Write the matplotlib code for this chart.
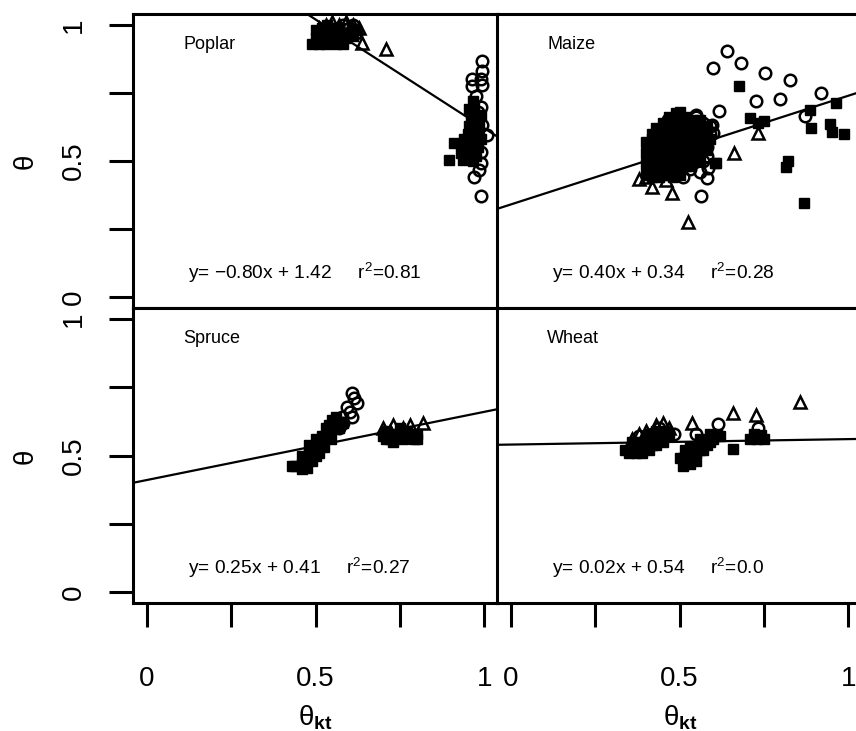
import matplotlib.pyplot as plt

plt.rcParams['font.family'] = ['Liberation Sans', 'DejaVu Sans']
plt.rcParams['mathtext.fontset'] = 'custom'
plt.rcParams['mathtext.rm'] = 'Liberation Sans'
plt.rcParams['mathtext.it'] = 'Liberation Sans:italic'
plt.rcParams['mathtext.bf'] = 'Liberation Sans:bold'
plt.rcParams['mathtext.default'] = 'regular'

# ---- data ----
names = ["Poplar", "Maize", "Spruce", "Wheat"]
slopes = [-0.80, 0.40, 0.25, 0.02]
intercepts = [1.42, 0.34, 0.41, 0.54]
equations = ["y= \u22120.80x + 1.42     r$^2$=0.81",
             "y= 0.40x + 0.34     r$^2$=0.28",
             "y= 0.25x + 0.41     r$^2$=0.27",
             "y= 0.02x + 0.54     r$^2$=0.0"]

# Poplar
poplar_sq_x = [0.49, 0.50, 0.51, 0.52, 0.53, 0.54, 0.55, 0.56, 0.57, 0.58, 0.59, 0.60, 0.50, 0.52, 0.55, 0.57,
               0.53, 0.58, 0.61, 0.62, 0.535, 0.565,
               0.896, 0.911, 0.935, 0.94, 0.95, 0.96, 0.96, 0.97, 0.97, 0.98, 0.98, 0.99, 0.95, 0.965, 0.975, 0.955, 0.985,
               0.955, 0.975, 0.97, 0.96, 0.94, 0.93, 0.99, 0.975, 0.965, 0.945, 0.985, 0.97]
poplar_sq_y = [0.93, 0.95, 0.93, 0.95, 0.97, 0.94, 0.96, 0.93, 0.95, 0.97, 0.95, 0.97, 0.98, 0.99, 0.99, 0.99,
               0.93, 0.93, 0.96, 0.98, 1.00, 0.97,
               0.504, 0.566, 0.504, 0.55, 0.60, 0.53, 0.65, 0.58, 0.70, 0.62, 0.55, 0.67, 0.57, 0.72, 0.52, 0.63, 0.60,
               0.69, 0.66, 0.63, 0.61, 0.58, 0.53, 0.58, 0.55, 0.50, 0.52, 0.64, 0.675]
poplar_ci_x = [0.52, 0.54, 0.56, 0.58, 0.60, 0.62, 0.57, 0.61,
               0.994, 0.994, 0.991, 0.964, 0.962, 0.994, 0.975, 0.99, 0.994, 1.006, 0.991, 0.991, 0.985, 0.970, 0.991, 0.98]
poplar_ci_y = [0.97, 0.99, 0.98, 1.00, 0.99, 0.97, 0.96, 1.00,
               0.869, 0.832, 0.803, 0.803, 0.777, 0.781, 0.74, 0.70, 0.631, 0.595, 0.533, 0.493, 0.467, 0.442, 0.372, 0.68]
poplar_tr_x = [0.51, 0.53, 0.55, 0.57, 0.59, 0.61, 0.63, 0.639, 0.710]
poplar_tr_y = [0.99, 1.00, 1.01, 1.00, 1.01, 1.00, 0.99, 0.934, 0.912]

# Maize
maize_sq_x = [0.40, 0.41, 0.42, 0.43, 0.44, 0.45, 0.46, 0.47, 0.48, 0.49, 0.50, 0.51, 0.52, 0.53, 0.54, 0.55,
              0.56, 0.57, 0.42, 0.44, 0.47, 0.50, 0.53, 0.58, 0.46, 0.40, 0.43, 0.49, 0.52, 0.55, 0.45, 0.48,
              0.41, 0.43, 0.45, 0.47, 0.49, 0.51, 0.53, 0.55, 0.57, 0.48, 0.50, 0.46, 0.44, 0.42, 0.45, 0.52,
              0.54, 0.56, 0.58, 0.51, 0.47, 0.43, 0.49, 0.54, 0.56,
              0.40, 0.40, 0.42, 0.44, 0.44, 0.46, 0.46, 0.48, 0.48, 0.50, 0.50, 0.52, 0.52, 0.54, 0.54,
              0.56, 0.56, 0.58, 0.58, 0.59, 0.47, 0.50, 0.43, 0.41, 0.45, 0.53, 0.51,
              0.675, 0.710, 0.751, 0.731, 0.885, 0.962, 0.888, 0.944, 0.950, 0.988, 0.820, 0.814, 0.867, 0.604, 0.609]
maize_sq_y = [0.45, 0.50, 0.55, 0.47, 0.52, 0.58, 0.49, 0.62, 0.55, 0.675, 0.50, 0.60, 0.54, 0.64, 0.58, 0.51,
              0.62, 0.56, 0.60, 0.44, 0.45, 0.65, 0.48, 0.60, 0.56, 0.53, 0.58, 0.58, 0.66, 0.56, 0.64, 0.47,
              0.47, 0.52, 0.48, 0.50, 0.52, 0.55, 0.58, 0.61, 0.59, 0.63, 0.62, 0.53, 0.49, 0.44, 0.45, 0.51,
              0.55, 0.54, 0.57, 0.64, 0.58, 0.55, 0.47, 0.62, 0.65,
              0.49, 0.57, 0.58, 0.60, 0.54, 0.62, 0.46, 0.44, 0.50, 0.45, 0.53, 0.48, 0.57, 0.50, 0.65,
              0.50, 0.59, 0.63, 0.54, 0.58, 0.66, 0.68, 0.62, 0.53, 0.51, 0.52, 0.58,
              0.774, 0.657, 0.646, 0.639, 0.686, 0.712, 0.620, 0.635, 0.606, 0.599, 0.500, 0.478, 0.347, 0.493, 0.493]
maize_ci_x = [0.45, 0.48, 0.50, 0.52, 0.54, 0.56, 0.57, 0.58, 0.55, 0.53, 0.51, 0.59, 0.47, 0.44,
              0.58, 0.59, 0.57, 0.56, 0.53, 0.55,
              0.642, 0.598, 0.683, 0.754, 0.828, 0.725, 0.796, 0.920, 0.618, 0.870, 0.595, 0.583, 0.580,
              0.565, 0.550, 0.598]
maize_ci_y = [0.50, 0.60, 0.56, 0.62, 0.53, 0.57, 0.64, 0.52, 0.66, 0.47, 0.44, 0.60, 0.52, 0.57,
              0.55, 0.63, 0.50, 0.46, 0.60, 0.64,
              0.905, 0.843, 0.861, 0.825, 0.799, 0.719, 0.726, 0.748, 0.682, 0.664, 0.631, 0.474, 0.438,
              0.372, 0.668, 0.602]
maize_tr_x = [0.42, 0.44, 0.46, 0.48, 0.50, 0.41, 0.43, 0.45, 0.441, 0.379, 0.420, 0.479, 0.524, 0.660, 0.731,
              0.400, 0.460]
maize_tr_y = [0.50, 0.55, 0.60, 0.52, 0.58, 0.57, 0.46, 0.64, 0.606, 0.434, 0.405, 0.383, 0.277, 0.529, 0.602,
              0.440, 0.430]

# Spruce
spruce_sq_x = [0.429, 0.459, 0.47, 0.46, 0.48, 0.49, 0.482, 0.50, 0.51, 0.52, 0.53, 0.50, 0.54, 0.55, 0.56, 0.475,
               0.49, 0.51, 0.525, 0.545, 0.57, 0.58,
               0.44, 0.46, 0.48, 0.50, 0.52, 0.54, 0.56, 0.55, 0.53,
               0.70, 0.72, 0.74, 0.76, 0.78, 0.80, 0.71, 0.75, 0.73, 0.77, 0.79, 0.71, 0.74, 0.77, 0.80]
spruce_sq_y = [0.46, 0.449, 0.47, 0.50, 0.49, 0.52, 0.54, 0.50, 0.53, 0.55, 0.57, 0.56, 0.59, 0.60, 0.62, 0.455,
               0.48, 0.51, 0.53, 0.56, 0.60, 0.62,
               0.46, 0.47, 0.51, 0.53, 0.57, 0.61, 0.64, 0.63, 0.60,
               0.57, 0.56, 0.58, 0.56, 0.57, 0.58, 0.59, 0.60, 0.55, 0.59, 0.56, 0.56, 0.57, 0.58, 0.56]
spruce_ci_x = [0.609, 0.615, 0.624, 0.592, 0.601, 0.609, 0.577, 0.56, 0.55, 0.58, 0.57, 0.54]
spruce_ci_y = [0.730, 0.712, 0.693, 0.679, 0.661, 0.642, 0.642, 0.62, 0.60, 0.62, 0.60, 0.58]
spruce_tr_x = [0.817, 0.70, 0.73, 0.76, 0.78, 0.72]
spruce_tr_y = [0.620, 0.60, 0.61, 0.60, 0.61, 0.59]

# Wheat
wheat_sq_x = [0.34, 0.36, 0.38, 0.40, 0.42, 0.44, 0.46, 0.37, 0.41, 0.45, 0.39, 0.43, 0.35,
              0.36, 0.38, 0.40, 0.42, 0.44, 0.46, 0.43, 0.39, 0.41, 0.47,
              0.51, 0.52, 0.54, 0.53, 0.56, 0.58, 0.60, 0.62, 0.57, 0.55, 0.59, 0.50, 0.515,
              0.51, 0.53, 0.55, 0.57, 0.59, 0.61, 0.56, 0.52,
              0.657, 0.71, 0.73, 0.75, 0.72, 0.74]
wheat_sq_y = [0.52, 0.53, 0.55, 0.54, 0.56, 0.58, 0.57, 0.51, 0.52, 0.55, 0.51, 0.54, 0.51,
              0.55, 0.52, 0.57, 0.54, 0.56, 0.59, 0.59, 0.54, 0.58, 0.58,
              0.46, 0.49, 0.50, 0.53, 0.52, 0.54, 0.56, 0.57, 0.55, 0.48, 0.58, 0.49, 0.52,
              0.49, 0.47, 0.51, 0.52, 0.55, 0.58, 0.56, 0.51,
              0.525, 0.56, 0.56, 0.56, 0.58, 0.575]
wheat_ci_x = [0.38, 0.42, 0.485, 0.40, 0.44, 0.55, 0.615, 0.731]
wheat_ci_y = [0.57, 0.58, 0.577, 0.56, 0.60, 0.577, 0.617, 0.599]
wheat_tr_x = [0.40, 0.43, 0.45, 0.47, 0.36, 0.38, 0.536, 0.657, 0.725, 0.858]
wheat_tr_y = [0.59, 0.61, 0.62, 0.60, 0.56, 0.58, 0.620, 0.657, 0.650, 0.697]

squares = [(poplar_sq_x, poplar_sq_y), (maize_sq_x, maize_sq_y), (spruce_sq_x, spruce_sq_y), (wheat_sq_x, wheat_sq_y)]
circles = [(poplar_ci_x, poplar_ci_y), (maize_ci_x, maize_ci_y), (spruce_ci_x, spruce_ci_y), (wheat_ci_x, wheat_ci_y)]
triangles = [(poplar_tr_x, poplar_tr_y), (maize_tr_x, maize_tr_y), (spruce_tr_x, spruce_tr_y), (wheat_tr_x, wheat_tr_y)]

tick_pos = [0, 0.25, 0.5, 0.75, 1]
tick_lab = ["0", "", "0.5", "", "1"]

fig = plt.figure(figsize=(8.56, 7.31), dpi=100)
W, H = 856, 731
lefts = [133, 497, 133, 497]
tops = [14, 14, 308, 308]
bottoms = [308, 308, 603, 603]

for i in range(4):
    ax = fig.add_axes([lefts[i] / W, 1 - bottoms[i] / H, 365 / W, (bottoms[i] - tops[i]) / H])
    ax.set_xlim(-0.04, 1.04)
    ax.set_ylim(-0.04, 1.04)
    for s in ax.spines.values():
        s.set_linewidth(2.2)

    ax.plot(squares[i][0], squares[i][1], 's', color='black', markersize=7.2, linestyle='none')
    ax.plot(circles[i][0], circles[i][1], 'o', mfc='none', mec='black', mew=1.8, markersize=8.3, linestyle='none')
    ax.plot(triangles[i][0], triangles[i][1], '^', mfc='none', mec='black', mew=1.8, markersize=8.3, linestyle='none')
    ax.axline((0, intercepts[i]), slope=slopes[i], color='black', linewidth=1.6)

    ax.text(0.137, 0.895, names[i], transform=ax.transAxes, fontsize=13, va='center')
    ax.text(0.151, 0.119, equations[i], transform=ax.transAxes, fontsize=13.8, va='center')

    ax.tick_params(length=17, width=2.2, labelsize=20)
    if i in (0, 2):
        ax.set_yticks(tick_pos)
        ax.set_yticklabels(tick_lab, rotation=90, va='center')
        ax.tick_params(axis='y', pad=16)
    else:
        ax.set_yticks([])
    if i in (2, 3):
        ax.set_xticks(tick_pos)
        ax.set_xticklabels(tick_lab)
        ax.tick_params(axis='x', pad=28)
    else:
        ax.set_xticks([])

# axis titles
fig.text(26 / W, 1 - 161 / H, "\u03b8", rotation=90, fontsize=20, ha='center', va='center')
fig.text(26 / W, 1 - 456 / H, "\u03b8", rotation=90, fontsize=20, ha='center', va='center')
fig.text(315 / W, 1 - 726 / H, "\u03b8$_{\\mathbf{kt}}$", fontsize=20, ha='center', va='baseline')
fig.text(680 / W, 1 - 726 / H, "\u03b8$_{\\mathbf{kt}}$", fontsize=20, ha='center', va='baseline')

fig.savefig("out.png", dpi=100)
